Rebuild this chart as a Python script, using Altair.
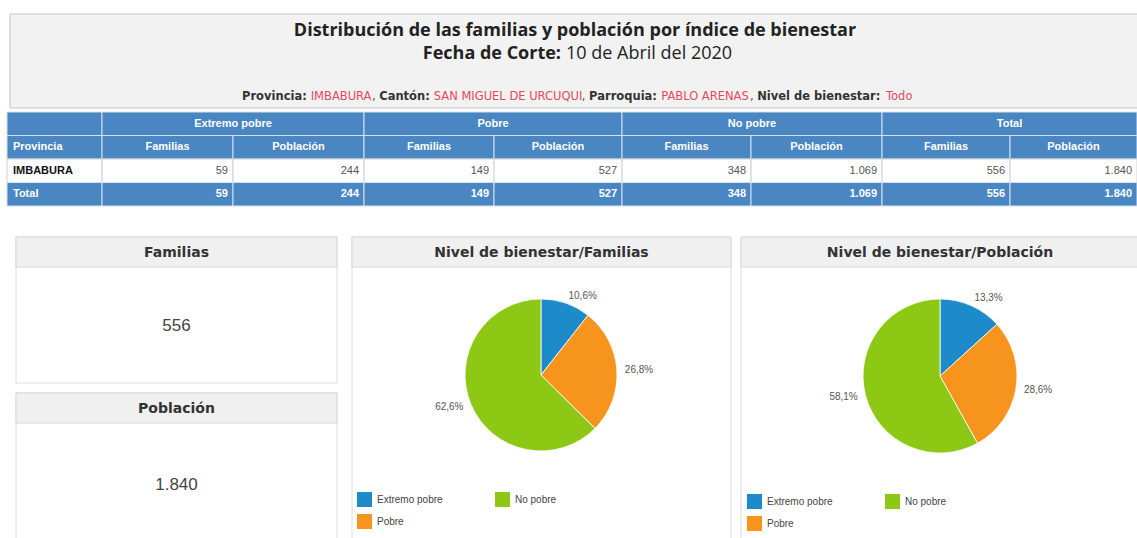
import altair as alt
import pandas as pd

# ---------------- datos ----------------
niveles = ["Extremo pobre", "Pobre", "No pobre"]
familias = [59, 149, 348]
poblacion = [244, 527, 1069]
provincia = "IMBABURA"
colores = ["#1d8bca", "#f7941d", "#8cc814"]

titulo = "Distribución de las familias y población por índice de bienestar"
fecha_etiqueta = "Fecha de Corte:"
fecha_valor = "10 de Abril del 2020"
filtro_etiquetas = ["Provincia:", "Cantón:", "Parroquia:", "Nivel de bienestar:"]
filtro_valores = ["IMBABURA", "SAN MIGUEL DE URCUQUI", "PABLO ARENAS", "Todo"]
grupos = ["Extremo pobre", "Pobre", "No pobre", "Total"]
subcolumnas = ["Familias", "Población"]
paneles = ["Familias", "Población", "Nivel de bienestar/Familias", "Nivel de bienestar/Población"]


def miles(n):
    return f"{n:,}".replace(",", ".")


def pct(p):
    return f"{p:.1f}%".replace(".", ",")


tot_fam = sum(familias)
tot_pob = sum(poblacion)

# ---------------- layout (pixels) ----------------
W, H = 1137, 538
BLUE = "#4a86c1"
TX = [7, 102, 233, 364, 494, 622, 751, 882, 1010, 1137]
TY = [112, 135.5, 159, 182.5, 206]
FILTRO_Y = 97
FILTRO_X = [242, 310.7, 371.9, 379.2, 433.8, 581.8, 589.1, 661.2, 749.9, 757.2, 886.0]
PANEL = {
    "Familias": (16, 237, 337, 383),
    "Población": (16, 393, 337, 600),
    "Nivel de bienestar/Familias": (352, 237, 731, 600),
    "Nivel de bienestar/Población": (741, 237, 1150, 600),
}
HEAD_H = 30
PIE = [(541, 375, 76, 357, 492), (940, 376, 77, 747, 494)]

# ---------------- rectangles ----------------
rects = [dict(x0=10, y0=14, x1=1150, y1=108, fill="#f2f2f2", stroke="#c4c4c4")]
for nombre in paneles:
    x0, y0, x1, y1 = PANEL[nombre]
    rects.append(dict(x0=x0, y0=y0, x1=x1, y1=y1, fill="#ffffff", stroke="#dedede"))
    rects.append(dict(x0=x0, y0=y0, x1=x1, y1=y0 + HEAD_H, fill="#f0f0f0", stroke="#d6d6d6"))
# table cells
rects.append(dict(x0=TX[0], y0=TY[0], x1=TX[1], y1=TY[1], fill=BLUE, stroke="#d2e1f0"))
for i in range(len(grupos)):
    rects.append(dict(x0=TX[1 + 2 * i], y0=TY[0], x1=TX[3 + 2 * i], y1=TY[1], fill=BLUE, stroke="#d2e1f0"))
for r, (fill, stroke) in enumerate([(BLUE, "#d2e1f0"), ("#ffffff", "#d0d0d0"), (BLUE, "#d2e1f0")], start=1):
    for c in range(9):
        rects.append(dict(x0=TX[c], y0=TY[r], x1=TX[c + 1], y1=TY[r + 1], fill=fill, stroke=stroke))
rects_df = pd.DataFrame(rects)

rect_layer = alt.Chart(rects_df).mark_rect(strokeWidth=1).encode(
    x=alt.X("x0:Q", scale=None, axis=None),
    x2="x1:Q",
    y=alt.Y("y0:Q", scale=None, axis=None),
    y2="y1:Q",
    fill=alt.Fill("fill:N", scale=None, legend=None),
    stroke=alt.Stroke("stroke:N", scale=None, legend=None),
)


def text_layer(rows, **kw):
    df = pd.DataFrame(rows, columns=["x", "y", "t", "c"])
    return alt.Chart(df).mark_text(baseline="middle", **kw).encode(
        x=alt.X("x:Q", scale=None, axis=None),
        y=alt.Y("y:Q", scale=None, axis=None),
        text="t:N",
        color=alt.Color("c:N", scale=None, legend=None),
    )


layers = [rect_layer]

# titles
layers.append(text_layer([(575, 31, titulo, "#222222")], font="Open Sans", fontSize=18,
                         fontWeight="bold", align="center"))
layers.append(text_layer([(561, 54, fecha_etiqueta, "#222222")], font="Open Sans", fontSize=18,
                         fontWeight="bold", align="right"))
layers.append(text_layer([(566, 54, fecha_valor, "#222222")], font="Open Sans", fontSize=18,
                         align="left"))

# filter line
etq_rows, val_rows, coma_rows = [], [], []
for k in range(4):
    etq_rows.append((FILTRO_X[3 * k], FILTRO_Y, filtro_etiquetas[k], "#333333"))
    val_rows.append((FILTRO_X[3 * k + 1], FILTRO_Y, filtro_valores[k], "#e5485d"))
    if k < 3:
        coma_rows.append((FILTRO_X[3 * k + 2], FILTRO_Y, ",", "#555555"))
layers.append(text_layer(etq_rows, font="DejaVu Sans", fontSize=11.5, fontWeight="bold", align="left"))
layers.append(text_layer(val_rows, font="DejaVu Sans", fontSize=11.5, align="left"))
layers.append(text_layer(coma_rows, font="DejaVu Sans", fontSize=11.5, align="left"))

# table texts
ycen = [(TY[k] + TY[k + 1]) / 2 for k in range(4)]
head_center = []
for i, g in enumerate(grupos):
    head_center.append(((TX[1 + 2 * i] + TX[3 + 2 * i]) / 2, ycen[0], g, "#ffffff"))
for c in range(8):
    head_center.append(((TX[c + 1] + TX[c + 2]) / 2, ycen[1], subcolumnas[c % 2], "#ffffff"))
layers.append(text_layer(head_center, font="Liberation Sans", fontSize=11, fontWeight="bold", align="center"))

left_bold = [
    (TX[0] + 6, ycen[1], "Provincia", "#ffffff"),
    (TX[0] + 6, ycen[2], provincia, "#111111"),
    (TX[0] + 6, ycen[3], "Total", "#ffffff"),
]
layers.append(text_layer(left_bold, font="Liberation Sans", fontSize=11, fontWeight="bold", align="left"))

valores_fila = []
for f, p in zip(familias, poblacion):
    valores_fila += [f, p]
valores_fila += [tot_fam, tot_pob]
fila_prov = [(TX[c + 2] - 5, ycen[2], miles(v), "#555555") for c, v in enumerate(valores_fila)]
fila_tot = [(TX[c + 2] - 5, ycen[3], miles(v), "#ffffff") for c, v in enumerate(valores_fila)]
layers.append(text_layer(fila_prov, font="Liberation Sans", fontSize=11, align="right"))
layers.append(text_layer(fila_tot, font="Liberation Sans", fontSize=11, fontWeight="bold", align="right"))

# panel headers
ph = []
for nombre in paneles:
    x0, y0, x1, y1 = PANEL[nombre]
    xc = (x0 + x1) / 2 if x1 <= W else (x0 + 1139) / 2
    ph.append((xc, y0 + HEAD_H / 2 + 1, nombre, "#333333"))
layers.append(text_layer(ph, font="DejaVu Sans", fontSize=14, fontWeight="bold", align="center"))

# big numbers
big = [
    ((PANEL["Familias"][0] + PANEL["Familias"][2]) / 2, 326, miles(tot_fam), "#444444"),
    ((PANEL["Población"][0] + PANEL["Población"][2]) / 2, 485, miles(tot_pob), "#444444"),
]
layers.append(text_layer(big, font="Liberation Sans", fontSize=17, align="center"))

# pies
leg_dom = ["Extremo pobre", "Pobre", "No pobre"]
leg_rng = [colores[niveles.index(n)] for n in leg_dom]

for serie, (cx, cy, r, lx, ly) in zip([familias, poblacion], PIE):
    total = sum(serie)
    acum = 0
    rows = []
    for i, (n, v) in enumerate(zip(niveles, serie)):
        mid = (acum + v / 2) / total
        acum += v
        etq = pct(100 * v / total)
        rows.append(dict(nivel=n, valor=v, orden=i,
                         etq_der=etq if mid < 0.5 else "",
                         etq_izq=etq if mid >= 0.5 else ""))
    df = pd.DataFrame(rows)
    base = alt.Chart(df).encode(
        theta=alt.Theta("valor:Q", stack=True),
        order=alt.Order("orden:Q"),
    )
    arc = base.mark_arc(radius=r, stroke="#ffffff", strokeWidth=0.8).encode(
        x=alt.value(cx),
        y=alt.value(cy),
        color=alt.Color(
            "nivel:N",
            scale=alt.Scale(domain=leg_dom, range=leg_rng),
            legend=alt.Legend(
                title=None, orient="none", legendX=lx, legendY=ly, columns=2,
                symbolType="square", symbolSize=225, symbolStrokeWidth=0,
                labelFont="Liberation Sans", labelFontSize=10, labelColor="#444444",
                columnPadding=52, rowPadding=7, padding=0, labelOffset=5,
            ),
        ),
    )
    lab_r = base.mark_text(radius=r + 8, align="left", baseline="middle", font="Liberation Sans",
                           fontSize=10, color="#555555").encode(
        x=alt.value(cx), y=alt.value(cy), text="etq_der:N", detail="nivel:N")
    lab_l = base.mark_text(radius=r + 8, align="right", baseline="middle", font="Liberation Sans",
                           fontSize=10, color="#555555").encode(
        x=alt.value(cx), y=alt.value(cy), text="etq_izq:N", detail="nivel:N")
    layers += [arc, lab_r, lab_l]

chart = alt.layer(*layers).resolve_scale(
    color="independent", theta="independent"
).properties(
    width=W, height=H, padding=0, autosize="none", background="#ffffff"
).configure_view(strokeWidth=0)

chart.save("out.html", embed_options={"renderer": "svg", "actions": False})
